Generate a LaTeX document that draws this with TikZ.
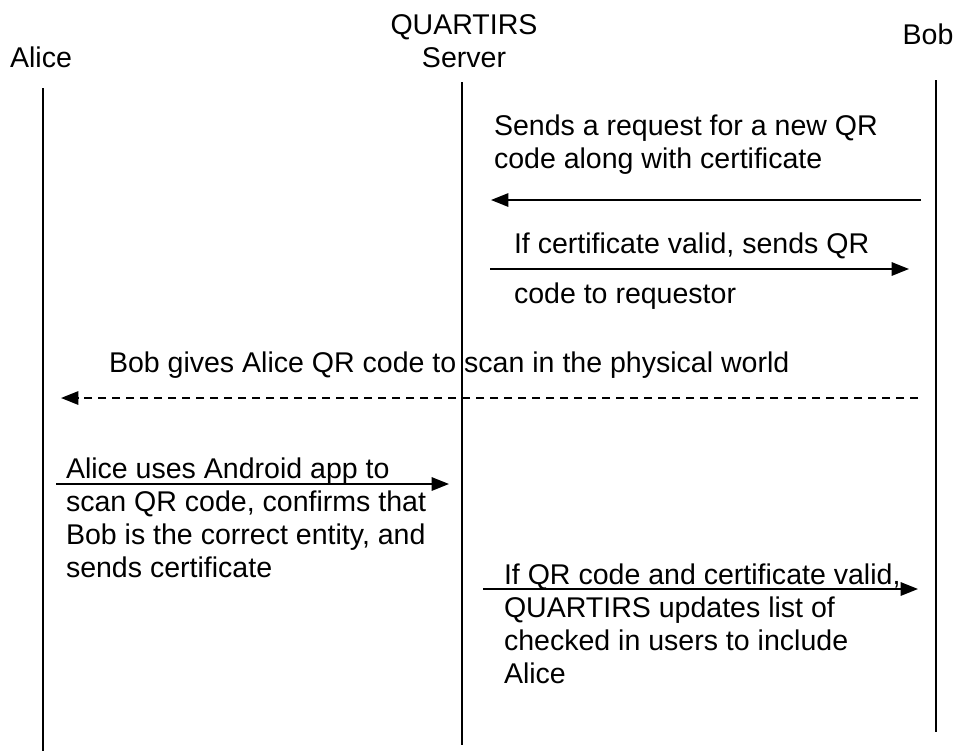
\documentclass[tikz,border=0pt]{standalone}
\usepackage{fontspec}
\setmainfont{Liberation Sans}
\usetikzlibrary{arrows.meta}

\tikzset{every picture/.style={line width=1.5pt}}
\tikzset{
  lifeline/.style={line width=1.5pt},
  msg/.style={line width=1.5pt,-{Triangle[length=13pt,width=10pt]}},
  msgtext/.style={inner sep=0pt,align=left,font=\fontsize{21.4}{24.6}\selectfont},
  actor/.style={inner sep=0pt,align=center,font=\fontsize{21.4}{24.6}\selectfont}
}

\begin{document}
\begin{tikzpicture}[x=0.75pt,y=0.75pt,yscale=-1,xscale=1]
\useasboundingbox (0,0) rectangle (956,751);

% Actors
\node (alice) [actor,anchor=base] at (41,67) {Alice};
\node (server) [actor,anchor=north] at (464,14) {QUARTIRS\\Server};
\node (bob) [actor,anchor=base] at (928,44) {Bob};

% Lifelines
\coordinate (alicetop) at (43,88);
\coordinate (alicebot) at (43,751);
\coordinate (servertop) at (462,82);
\coordinate (serverbot) at (462,745);
\coordinate (bobtop) at (936,80);
\coordinate (bobbot) at (936,732);
\draw [lifeline] (alicetop) -- (alicebot);
\draw [lifeline] (servertop) -- (serverbot);
\draw [lifeline] (bobtop) -- (bobbot);

% Message ends
\coordinate (reqfrom) at (921,200);
\coordinate (reqto) at (491,200);
\coordinate (qrfrom) at (490,269);
\coordinate (qrto) at (909,269);
\coordinate (givefrom) at (918,398);
\coordinate (giveto) at (61,398);
\coordinate (scanfrom) at (56,484);
\coordinate (scanto) at (449,484);
\coordinate (checkfrom) at (483,589);
\coordinate (checkto) at (918,589);

% Messages
\draw [msg] (reqfrom) -- (reqto);
\draw [msg] (qrfrom) -- (qrto);
\draw [msg,dash pattern={on 6pt off 4.5pt}] (givefrom) -- (giveto);
\draw [msg] (scanfrom) -- (scanto);
\draw [msg] (checkfrom) -- (checkto);

% Text Node
\node (reqtext) [msgtext,anchor=north west] at (493,114) {Sends a request for a new QR\\code along with certificate};
% Text Node
\node (qrtext) [msgtext,anchor=north west] at (513,232) {If certificate valid, sends QR\\[13pt]code to requestor};
% Text Node
\node (givetext) [msgtext,anchor=base west] at (108,372) {Bob gives Alice QR code to scan in the physical world};
% Text Node
\node (scantext) [msgtext,anchor=north west] at (65,457) {Alice uses Android app to\\scan QR code, confirms that\\Bob is the correct entity, and\\sends certificate};
% Text Node
\node (checktext) [msgtext,anchor=north west] at (503,563) {If QR code and certificate valid,\\QUARTIRS updates list of\\checked in users to include\\Alice};

\end{tikzpicture}
\end{document}
